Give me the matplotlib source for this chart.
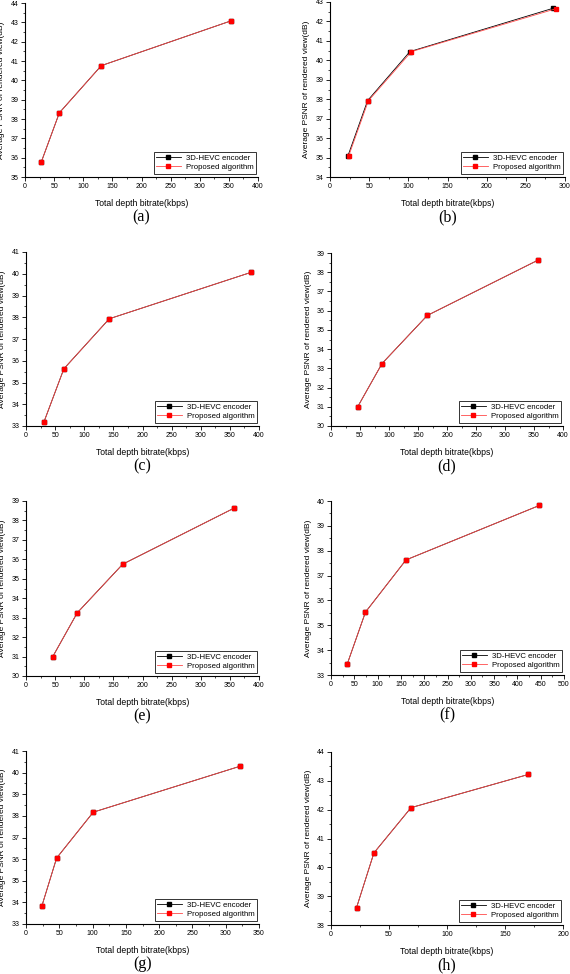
import matplotlib
matplotlib.use("Agg")
import matplotlib.pyplot as plt
from matplotlib.ticker import MultipleLocator

# bitrate (kbps) and PSNR (dB) for each sequence
panel_labels = ["(a)", "(b)", "(c)", "(d)", "(e)", "(f)", "(g)", "(h)"]

rate_a = [28, 59, 131, 354]
psnr_a = [35.78, 38.32, 40.76, 43.08]
rate_b_hevc = [23, 48, 102, 285]
psnr_b_hevc = [35.10, 37.93, 40.45, 42.68]
rate_b = [24, 49, 104, 289]
psnr_b = [35.10, 37.92, 40.45, 42.66]
rate_c = [31, 65, 143, 387]
psnr_c = [33.20, 35.63, 37.93, 40.07]
rate_d = [46, 88, 166, 357]
psnr_d = [31.00, 33.25, 35.75, 38.63]
rate_e = [46, 88, 166, 357]
psnr_e = [31.00, 33.25, 35.75, 38.63]
rate_f = [35, 74, 161, 447]
psnr_f = [33.45, 35.53, 37.63, 39.82]
rate_g = [24, 46, 101, 322]
psnr_g = [33.85, 36.05, 38.17, 40.30]
rate_h = [22, 37, 69, 170]
psnr_h = [38.60, 40.50, 42.07, 43.22]

hevc_rates = [rate_a, rate_b_hevc, rate_c, rate_d, rate_e, rate_f, rate_g, rate_h]
hevc_psnrs = [psnr_a, psnr_b_hevc, psnr_c, psnr_d, psnr_e, psnr_f, psnr_g, psnr_h]
prop_rates = [rate_a, rate_b, rate_c, rate_d, rate_e, rate_f, rate_g, rate_h]
prop_psnrs = [psnr_a, psnr_b, psnr_c, psnr_d, psnr_e, psnr_f, psnr_g, psnr_h]

xlims = [(0, 400), (0, 300), (0, 400), (0, 400), (0, 400), (0, 500), (0, 350), (0, 200)]
ylims = [(35, 44), (34, 43), (33, 41), (30, 39), (30, 39), (33, 40), (33, 41), (38, 44)]

# axes boxes in pixels: left, right, top, bottom
boxes = [(25, 258, 3, 177), (330, 565, 2, 177),
         (26, 259, 252, 426), (331, 563, 253, 426),
         (26, 259, 501, 676), (331, 564, 501, 675),
         (26, 259, 751, 924), (331, 563, 752, 925)]

W, H = 570, 974
fig = plt.figure(figsize=(W / 100, H / 100), dpi=100)
plt.rcParams['font.family'] = ['Liberation Sans', 'DejaVu Sans']

for i in range(8):
    l, r, t, b = boxes[i]
    ax = fig.add_axes([l / W, 1 - b / H, (r - l) / W, (b - t) / H])
    ax.plot(hevc_rates[i], hevc_psnrs[i], color='black', lw=0.6, marker='s',
            markersize=2.4, label='3D-HEVC encoder')
    ax.plot(prop_rates[i], prop_psnrs[i], color='#ff4a4a', lw=0.6, marker='s',
            markersize=2.4, markerfacecolor='#ff0000', markeredgecolor='#ff0000',
            label='Proposed algorithm')
    ax.set_xlim(*xlims[i])
    ax.set_ylim(*ylims[i])
    ax.xaxis.set_major_locator(MultipleLocator(50))
    ax.xaxis.set_minor_locator(MultipleLocator(25))
    ax.yaxis.set_major_locator(MultipleLocator(1))
    ax.yaxis.set_minor_locator(MultipleLocator(0.5))
    ax.spines['top'].set_visible(False)
    ax.spines['right'].set_visible(False)
    ax.spines['left'].set_linewidth(0.8)
    ax.spines['bottom'].set_linewidth(0.8)
    ax.tick_params(which='major', direction='out', length=3, width=0.6,
                   labelsize=5, pad=1.5)
    ax.tick_params(which='minor', direction='out', length=1.5, width=0.5)
    ax.set_xlabel('Total depth bitrate(kbps)', fontsize=6.2)
    ax.set_ylabel('Average PSNR of rendered view(dB)', fontsize=6)
    ax.xaxis.set_label_coords(0.5, -22 / (b - t))
    ax.yaxis.set_label_coords(-19.5 / (r - l), 0.5)
    leg = ax.legend(loc='lower right', bbox_to_anchor=(0.99, 0.02), fontsize=5.6,
                    frameon=True, fancybox=False, edgecolor='black',
                    handlelength=3.2, handletextpad=0.6, borderpad=0.3,
                    labelspacing=0.25, borderaxespad=0)
    leg.get_frame().set_linewidth(0.7)
    ax.text(0.5, -40 / (b - t), panel_labels[i], transform=ax.transAxes,
            ha='center', va='center', fontsize=11.5, family='Liberation Serif')

fig.savefig('out.png', dpi=100)
